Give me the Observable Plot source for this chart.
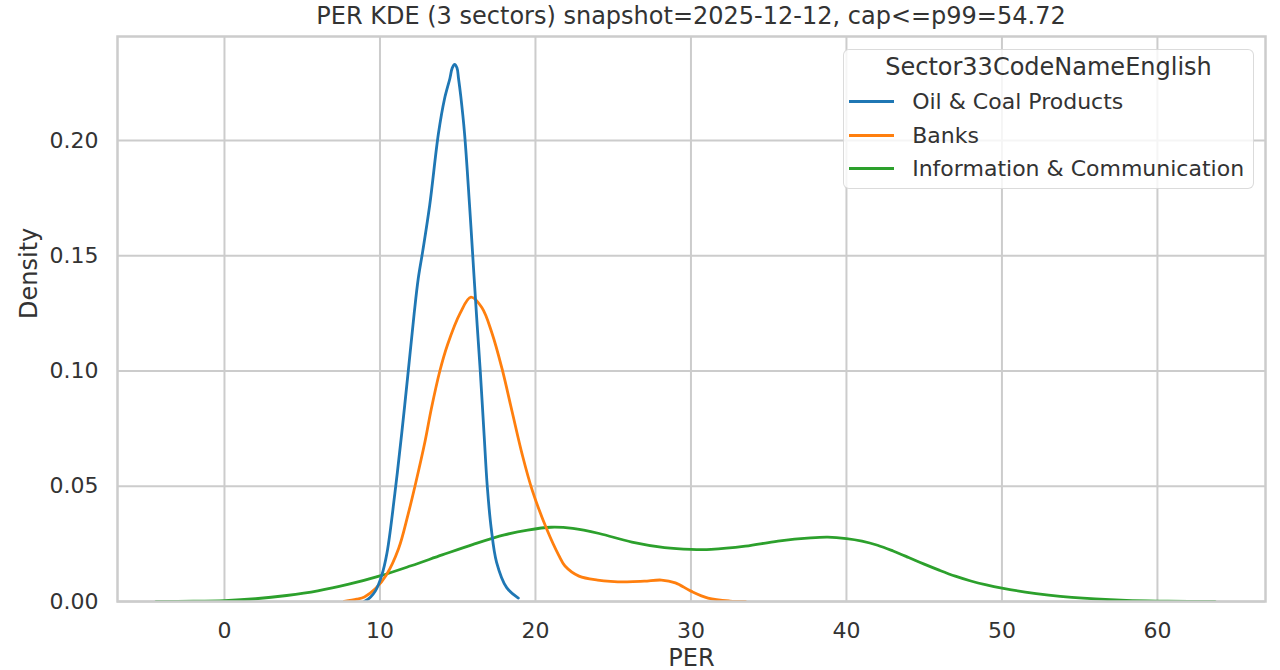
<!DOCTYPE html>
<html>
<head>
<meta charset="utf-8">
<script src="https://cdn.jsdelivr.net/npm/d3@7"></script>
<script src="https://cdn.jsdelivr.net/npm/@observablehq/plot@0.6"></script>
<style>
  body { margin: 0; background: #fff; font-family: "DejaVu Sans", sans-serif; color: #333333; }
  #wrap { position: relative; width: 1280px; height: 670px; overflow: hidden; }
  #title { height: 32px; box-sizing: border-box; padding: 4px 15px 0 117px; font-size: 24px; line-height: 24px; text-align: center; white-space: nowrap; }
  #legend { position: absolute; left: 843px; top: 49px; width: 411px; height: 140px; box-sizing: border-box;
            border: 1.5px solid rgba(204,204,204,0.7); border-radius: 6px; background: rgba(255,255,255,0.8); }
  #legend .lt { position: absolute; left: 0; width: 100%; top: 5.2px; font-size: 24px; line-height: 24px; text-align: center; white-space: nowrap; }
  #legend .row { position: absolute; left: 0; width: 100%; font-size: 22px; line-height: 22px; white-space: nowrap; }
  #legend .row .h { position: absolute; left: 4.5px; width: 45px; height: 3px; top: 8.9px; }
  #legend .row .t { position: absolute; left: 68.2px; top: 0; }
  svg { display: block; }
</style>
</head>
<body>
<div id="wrap">
  <div id="title"></div>
  <div id="chart"></div>
  <div id="legend"></div>
</div>
<script>
// ---- data ----
const TITLE = "PER KDE (3 sectors) snapshot=2025-12-12, cap<=p99=54.72";
const X_LABEL = "PER";
const Y_LABEL = "Density";
const LEGEND_TITLE = "Sector33CodeNameEnglish";
const SECTORS = ["Oil & Coal Products", "Banks", "Information & Communication"];
const COLORS = ["#1f77b4", "#ff7f0e", "#2ca02c"];
const X_TICKS = [0, 10, 20, 30, 40, 50, 60];
const Y_TICKS = [0, 0.05, 0.10, 0.15, 0.20];

const OIL_PER = [9.0, 9.4, 9.7, 10.1, 10.45, 10.96, 11.4, 11.82, 12.2, 12.46, 12.75, 13.2, 13.76, 14.15, 14.5, 14.65, 14.8, 14.95, 15.05, 15.2, 15.44, 15.76, 16.05, 16.25, 16.45, 16.7, 16.9, 17.15, 17.5, 18.15, 18.9];
const OIL_DENSITY = [0.000, 0.002, 0.0045, 0.011, 0.021, 0.047, 0.073, 0.100, 0.125, 0.140, 0.152, 0.172, 0.203, 0.218, 0.227, 0.2315, 0.233, 0.2315, 0.227, 0.219, 0.203, 0.172, 0.141, 0.120, 0.100, 0.072, 0.050, 0.032, 0.017, 0.006, 0.0015];

const BANK_PER = [7.7, 8.5, 9.0, 9.7, 10.4, 11.2, 11.8, 12.25, 12.9, 13.3, 13.85, 14.35, 15.15, 15.85, 16.55, 17.2, 17.85, 18.5, 19.15, 19.8, 20.75, 21.5, 21.9, 22.8, 24.0, 25.8, 27.0, 28.1, 29.0, 30.0, 31.1, 32.5, 33.5];
const BANK_DENSITY = [0.000, 0.001, 0.002, 0.0055, 0.0114, 0.023, 0.0376, 0.050, 0.0695, 0.0835, 0.100, 0.1115, 0.125, 0.132, 0.1275, 0.1165, 0.101, 0.0823, 0.0637, 0.0481, 0.031, 0.020, 0.0154, 0.011, 0.0093, 0.0085, 0.0088, 0.0093, 0.0081, 0.0045, 0.0015, 0.0002, 0.0];

const INFO_PER = [-4.4, -2, 0, 2, 4, 6, 8, 10, 12, 14, 16, 18, 19.5, 21, 22.4, 24.1, 26.2, 28.3, 30.0, 31.3, 33.5, 35.6, 37.7, 38.8, 40, 41, 42, 43, 44, 45, 46, 47, 48, 49, 50, 51.5, 53, 54.5, 56, 58, 60, 62, 63.7];
const INFO_DENSITY = [0.0, 0.0001, 0.0004, 0.0012, 0.0026, 0.0046, 0.0075, 0.0111, 0.0155, 0.0202, 0.0248, 0.0289, 0.0310, 0.0322, 0.0317, 0.0295, 0.0258, 0.0234, 0.0226, 0.0226, 0.0240, 0.0262, 0.0276, 0.0279, 0.0273, 0.0262, 0.0244, 0.0219, 0.0191, 0.0162, 0.0135, 0.0110, 0.0089, 0.0072, 0.0058, 0.0041, 0.0028, 0.0018, 0.0011, 0.0005, 0.0002, 0.00005, 0.0];

// ---- build rows (drawn in reverse order so the first sector is on top) ----
const SERIES = [
  [SECTORS[2], INFO_PER, INFO_DENSITY],
  [SECTORS[1], BANK_PER, BANK_DENSITY],
  [SECTORS[0], OIL_PER, OIL_DENSITY]
];
const rows = SERIES.flatMap(([sector, xs, ys]) => xs.map((x, i) => ({sector, per: x, density: ys[i]})));

document.getElementById("title").textContent = TITLE;

const chart = Plot.plot({
  width: 1280,
  height: 638,
  marginTop: 4,
  marginLeft: 117,
  marginRight: 15,
  marginBottom: 69,
  style: {fontFamily: "DejaVu Sans", color: "#333333", background: "transparent", overflow: "visible"},
  x: {domain: [-6.88, 66.95]},
  y: {domain: [0, 0.2451]},
  color: {domain: SECTORS, range: COLORS},
  marks: [
    Plot.gridX(X_TICKS, {stroke: "#cccccc", strokeOpacity: 1, strokeWidth: 2}),
    Plot.gridY(Y_TICKS, {stroke: "#cccccc", strokeOpacity: 1, strokeWidth: 2}),
    Plot.line(rows, {x: "per", y: "density", z: "sector", stroke: "sector", strokeWidth: 2.8, curve: "catmull-rom", clip: true}),
    Plot.frame({stroke: "#cccccc", strokeWidth: 2.5}),
    Plot.axisX(X_TICKS, {tickSize: 0, tickPadding: 21, fontSize: 22, label: null}),
    Plot.axisY(Y_TICKS, {tickSize: 0, tickPadding: 19, fontSize: 22, tickFormat: d3.format(".2f"), label: null}),
    Plot.text([X_LABEL], {text: d => d, frameAnchor: "bottom", dy: 64, lineAnchor: "bottom", fontSize: 24}),
    Plot.text([Y_LABEL], {text: d => d, frameAnchor: "left", dx: -98, rotate: -90, lineAnchor: "top", fontSize: 24})
  ]
});
document.getElementById("chart").appendChild(chart);

// ---- legend ----
const legend = document.getElementById("legend");
const lt = document.createElement("div");
lt.className = "lt";
lt.textContent = LEGEND_TITLE;
legend.appendChild(lt);
SECTORS.forEach((name, i) => {
  const row = document.createElement("div");
  row.className = "row";
  row.style.top = (41.4 + i * 33.3) + "px";
  const h = document.createElement("div");
  h.className = "h";
  h.style.background = COLORS[i];
  const t = document.createElement("div");
  t.className = "t";
  t.textContent = name;
  row.appendChild(h);
  row.appendChild(t);
  legend.appendChild(row);
});
</script>
</body>
</html>
